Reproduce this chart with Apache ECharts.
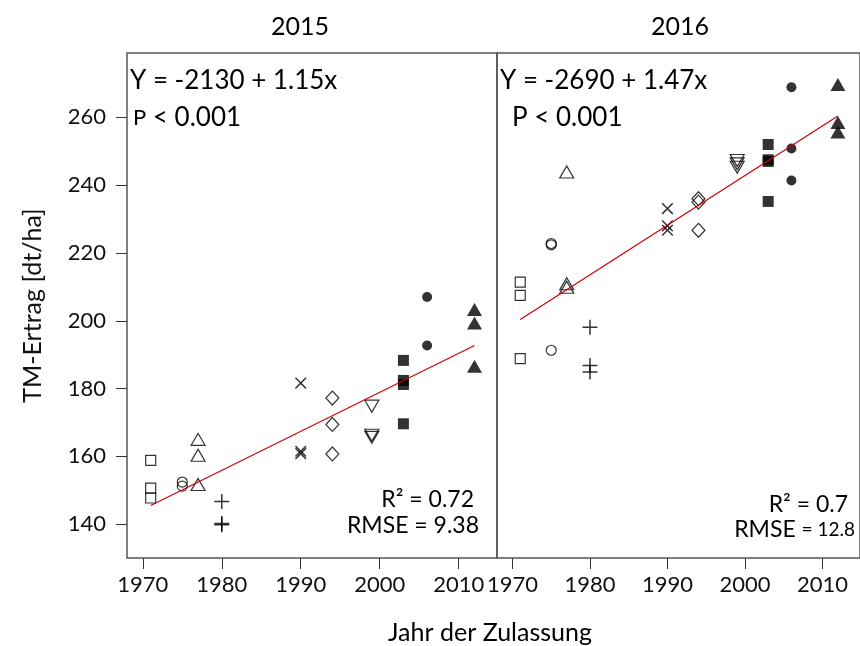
<!DOCTYPE html>
<html>
<head>
<meta charset="utf-8">
<script src="https://cdn.jsdelivr.net/npm/echarts@6/dist/echarts.min.js"></script>
<style>
  html, body { margin: 0; padding: 0; background: #fff; }
  #chart { width: 860px; height: 646px; }
</style>
</head>
<body>
<div id="chart"></div>
<script>
// year of registration for each variety group
var groupYears = [1971, 1975, 1977, 1980, 1990, 1994, 1999, 2003, 2006, 2012];

// TM-Ertrag [dt/ha] per group, 2015 trial
var yield2015 = [
    [158.8, 150.6, 147.7],
    [152.4, 151.2],
    [165.0, 160.3, 151.7],
    [146.7, 140.2, 139.8],
    [181.6, 161.5, 160.8],
    [177.2, 169.4, 160.7],
    [174.8, 166.2, 165.6],
    [188.3, 182.4, 181.2, 169.6],
    [207.0, 192.7],
    [203.3, 199.3, 186.6]
];

// TM-Ertrag [dt/ha] per group, 2016 trial
var yield2016 = [
    [211.4, 207.5, 188.8],
    [222.4, 222.8, 191.3],
    [243.9, 210.9, 209.9],
    [198.1, 186.8, 184.9],
    [233.1, 228.0, 226.7],
    [236.0, 235.0, 226.7],
    [247.3, 246.3, 245.3],
    [252.0, 247.5, 247.0, 235.2],
    [268.9, 250.8, 241.4],
    [269.7, 258.5, 255.7]
];

// regression line end points
var fit2015 = [[1971, 145.5], [2012, 192.7]];
var fit2016 = [[1971, 200.4], [2012, 260.4]];

var yTicks = [140, 160, 180, 200, 220, 240, 260];
var xTicks = [1970, 1980, 1990, 2000, 2010];

var FONT = "Lato, 'Open Sans', sans-serif";
var plusPath = "path://M4.5,0H5.5V4.5H10V5.5H5.5V10H4.5V5.5H0V4.5H4.5Z";

// marker look for each group (same order as groupYears)
var markers = [
    { symbol: "rect", size: 10, fill: false },
    { symbol: "circle", size: 10, fill: false },
    { symbol: "triangle", size: [14, 12], fill: false },
    { symbol: plusPath, size: 15, fill: true },
    { symbol: plusPath, size: 15, fill: true, rotate: 45 },
    { symbol: "diamond", size: [13, 14], fill: false },
    { symbol: "triangle", size: [14, 12], fill: false, rotate: 180 },
    { symbol: "rect", size: 11, fill: true },
    { symbol: "circle", size: 10, fill: true },
    { symbol: "triangle", size: [15, 13], fill: true }
];

function groupSeries(values, axisIndex) {
    return values.map(function (vals, i) {
        var m = markers[i];
        return {
            type: "scatter",
            xAxisIndex: axisIndex,
            yAxisIndex: axisIndex,
            symbol: m.symbol,
            symbolSize: m.size,
            symbolRotate: m.rotate || 0,
            silent: true,
            itemStyle: m.fill
                ? { color: "#000" }
                : { color: "rgba(0,0,0,0)", borderColor: "#000", borderWidth: 1.2 },
            data: vals.map(function (v) { return [groupYears[i], v]; })
        };
    });
}

function fitSeries(points, axisIndex) {
    return {
        type: "line",
        xAxisIndex: axisIndex,
        yAxisIndex: axisIndex,
        symbol: "none",
        silent: true,
        lineStyle: { color: "#d00000", width: 1.2 },
        data: points
    };
}

function xAxisFor(gridIndex) {
    return {
        type: "value", gridIndex: gridIndex, min: 1968, max: 2014.85,
        axisLine: { show: false },
        axisTick: { show: true, length: 11, customValues: xTicks, lineStyle: { color: "#333" } },
        axisLabel: { customValues: xTicks, margin: 16, fontSize: 22, fontFamily: FONT, color: "#111",
                     formatter: function (v) { return String(v); } },
        splitLine: { show: false }
    };
}

function yAxisFor(gridIndex, visible) {
    return {
        type: "value", gridIndex: gridIndex, min: 130, max: 279,
        name: visible ? "TM-Ertrag [dt/ha]" : "",
        nameLocation: "middle", nameGap: 82, nameRotate: 90,
        nameTextStyle: { fontSize: 25, fontFamily: FONT, color: "#111" },
        axisLine: { show: false },
        axisTick: { show: visible, length: 11, customValues: yTicks, lineStyle: { color: "#333" } },
        axisLabel: { show: visible, customValues: yTicks, margin: 21, fontSize: 22, fontFamily: FONT, color: "#111" },
        splitLine: { show: false }
    };
}

function txt(x, y, text, size, align, rich) {
    return {
        type: "text", x: x, y: y, silent: true,
        style: { text: text, font: size + "px " + FONT, fill: "#000", align: align || "left",
                 verticalAlign: "middle", rich: rich }
    };
}

var textRich = {
    s: { fontSize: 22, fontFamily: FONT },
    b: { fontSize: 26, fontFamily: FONT },
    r: { fontSize: 23, fontFamily: FONT },
    t: { fontSize: 19, fontFamily: FONT }
};

var chart = echarts.init(document.getElementById("chart"));
chart.setOption({
    animation: false,
    grid: [
        { left: 127, top: 53, width: 370, height: 505, show: true, borderColor: "#555", borderWidth: 1.5 },
        { left: 497, top: 53, width: 370, height: 505, show: true, borderColor: "#555", borderWidth: 1.5 }
    ],
    xAxis: [xAxisFor(0), xAxisFor(1)],
    yAxis: [yAxisFor(0, true), yAxisFor(1, false)],
    series: groupSeries(yield2015, 0)
        .concat(groupSeries(yield2016, 1))
        .concat([fitSeries(fit2015, 0), fitSeries(fit2016, 1)]),
    graphic: [
        txt(300, 27, "2015", 25, "center"),
        txt(680, 27, "2016", 25, "center"),
        txt(130, 81, "Y = -2130 + 1.15x", 26),
        txt(500, 81, "Y = -2690 + 1.47x", 26),
        txt(133, 118, "{s|P} {b|< 0.001}", 26, "left", textRich),
        txt(512, 118, "{b|P < 0.001}", 26, "left", textRich),
        txt(474, 500, "{r|R² = 0.72}", 23, "right", textRich),
        txt(479, 526, "{r|RMSE = 9.38}", 23, "right", textRich),
        txt(848, 505, "{r|R² = 0.7}", 23, "right", textRich),
        txt(855, 530, "{r|RMSE} {t|= 12.8}", 23, "right", textRich),
        txt(490, 633, "Jahr der Zulassung", 25, "center")
    ]
});
</script>
</body>
</html>
